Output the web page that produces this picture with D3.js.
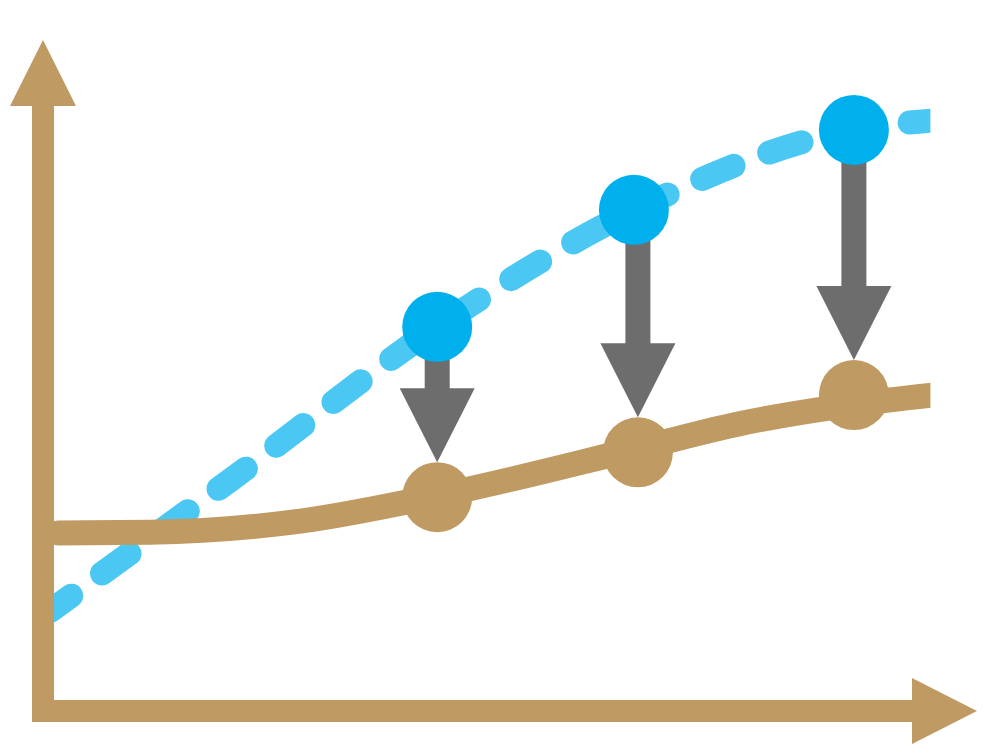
<!DOCTYPE html>
<html>
<head>
<meta charset="utf-8">
<script src="https://cdn.jsdelivr.net/npm/d3@7"></script>
<style>
  html, body { margin: 0; padding: 0; background: #fff; }
  svg { display: block; }
</style>
</head>
<body>
<svg width="989" height="754"></svg>
<script>
// values in chart units (x: 0..100, y: 0..100)
const pointX = [43.8, 66.1, 90.1];
const targetValues = [59.1, 77.1, 89.4];
const actualValues = [32.9, 39.8, 48.6];

const targetCurveX = [0.8, 20.8, 43.8, 65.8, 90, 99.5];
const targetCurveY = [15.4, 35.5, 59.1, 77.1, 89.4, 90.9];

const actualCurveX = [1.7, 11.9, 28.6, 43.8, 66.4, 77.4, 93.7, 99.5];
const actualCurveY = [27.4, 27.5, 29.2, 33.1, 40.5, 44.2, 47.8, 48.7];

const BROWN = "#BF9A62";
const DASH_BLUE = "#4BC7F3";
const DOT_BLUE = "#00B0EC";
const GREY = "#6D6D6D";
const R = 35;

const svg = d3.select("svg");

const x = d3.scaleLinear().domain([0, 100]).range([43, 943]);
const y = d3.scaleLinear().domain([0, 100]).range([711, 61]);

const zip = (xs, ys) => xs.map((v, i) => [v, ys[i]]);

const line = d3.line()
  .x(d => x(d[0]))
  .y(d => y(d[1]))
  .curve(d3.curveMonotoneX);

// curves are cut off flat on the right
svg.append("defs")
  .append("clipPath")
  .attr("id", "plot-clip")
  .append("rect")
  .attr("x", 0)
  .attr("y", 0)
  .attr("width", x(98.6))
  .attr("height", 754);

const curves = svg.append("g").attr("clip-path", "url(#plot-clip)");

// dashed target curve
curves.append("path")
  .attr("d", line(zip(targetCurveX, targetCurveY)))
  .attr("fill", "none")
  .attr("stroke", DASH_BLUE)
  .attr("stroke-width", 24)
  .attr("stroke-linecap", "round")
  .attr("stroke-dasharray", "34 38")
  .attr("stroke-dashoffset", 8);

// solid actual curve
curves.append("path")
  .attr("d", line(zip(actualCurveX, actualCurveY)))
  .attr("fill", "none")
  .attr("stroke", BROWN)
  .attr("stroke-width", 25)
  .attr("stroke-linecap", "round");

// axes with arrow heads
const [x0] = x.range();
const [y0] = y.range();
const axisW = 22;
const headHalf = 33;
const headLen = 66;

svg.append("rect")
  .attr("x", x0 - axisW / 2)
  .attr("y", 106)
  .attr("width", axisW)
  .attr("height", y0 + axisW / 2 - 106)
  .attr("fill", BROWN);

svg.append("path")
  .attr("d", `M${x0},${106 - headLen}L${x0 + headHalf},106L${x0 - headHalf},106Z`)
  .attr("fill", BROWN);

svg.append("rect")
  .attr("x", x0 - axisW / 2)
  .attr("y", y0 - axisW / 2)
  .attr("width", 912 - (x0 - axisW / 2))
  .attr("height", axisW)
  .attr("fill", BROWN);

svg.append("path")
  .attr("d", `M${912 + 65},${y0}L912,${y0 - headHalf}L912,${y0 + headHalf}Z`)
  .attr("fill", BROWN);

// grey arrows from target down to actual
const shaftW = 25;
const arrowHalf = 37.5;
const arrowLen = 74;

svg.append("g")
  .selectAll("path")
  .data(pointX.map((px, i) => ({ px, t: targetValues[i], a: actualValues[i] })))
  .join("path")
  .attr("fill", GREY)
  .attr("d", d => {
    const cx = x(d.px);
    const top = y(d.t);
    const tip = y(d.a) - R;
    const base = tip - arrowLen;
    return `M${cx - shaftW / 2},${top}L${cx + shaftW / 2},${top}` +
      `L${cx + shaftW / 2},${base}L${cx + arrowHalf},${base}L${cx},${tip}` +
      `L${cx - arrowHalf},${base}L${cx - shaftW / 2},${base}Z`;
  });

// actual dots
svg.append("g")
  .selectAll("circle")
  .data(pointX)
  .join("circle")
  .attr("cx", d => x(d))
  .attr("cy", (d, i) => y(actualValues[i]))
  .attr("r", R)
  .attr("fill", BROWN);

// target dots
svg.append("g")
  .selectAll("circle")
  .data(pointX)
  .join("circle")
  .attr("cx", (d, i) => x(d) - (i === 1 ? 4 : 0))
  .attr("cy", (d, i) => y(targetValues[i]))
  .attr("r", R)
  .attr("fill", DOT_BLUE);
</script>
</body>
</html>
